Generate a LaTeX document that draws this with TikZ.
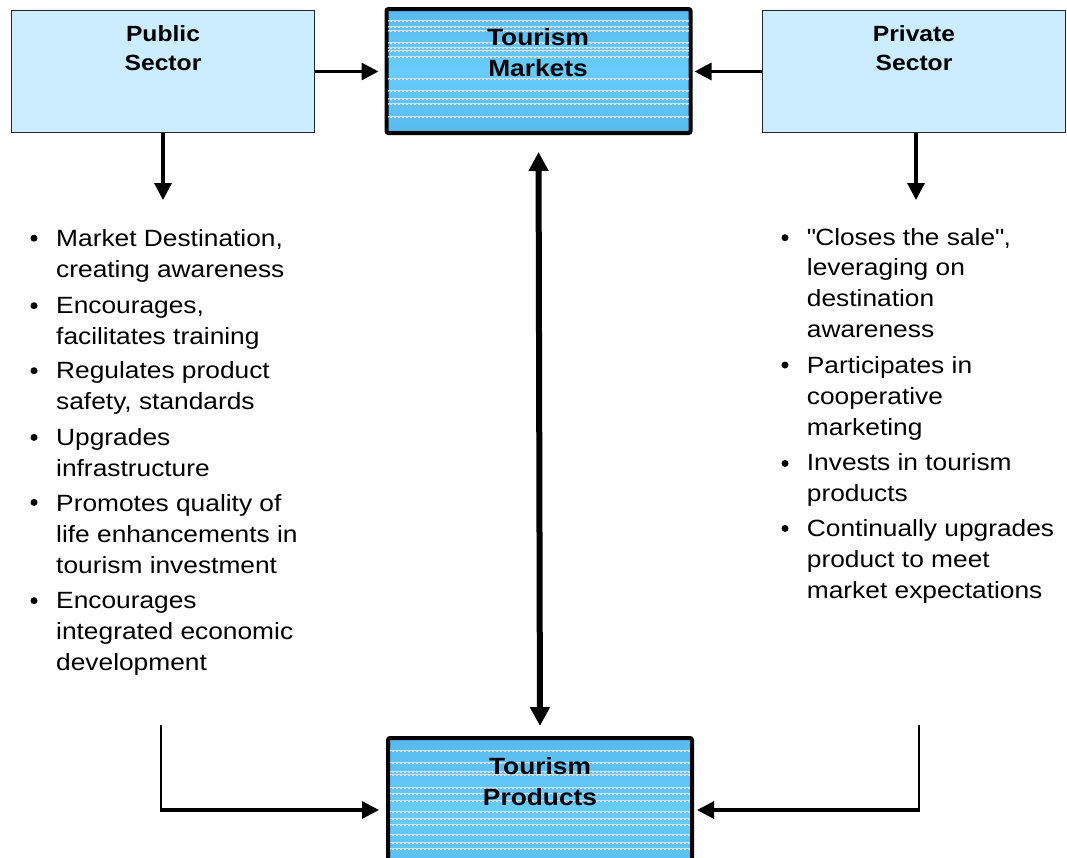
\documentclass[tikz,border=0pt]{standalone}
\usepackage{fontspec}
\setmainfont{Liberation Sans}[FakeStretch=1.12]
\usetikzlibrary{arrows.meta}

\definecolor{sectorfill}{RGB}{204,236,255}
\definecolor{tourismedge}{RGB}{88,186,236}
\definecolor{tourismmid}{RGB}{104,204,255}

\tikzset{
  sectorbox/.style={draw=black!85, line width=1.3pt, fill=sectorfill,
    minimum width=303pt, minimum height=122pt, inner sep=0pt, outer sep=0.65pt},
  tourismbox/.style={draw=black, line width=4pt, rounded corners=2pt,
    top color=tourismedge, bottom color=tourismedge, middle color=tourismmid,
    minimum width=304pt, inner sep=0pt, outer sep=2pt},
  % multi-line nodes are placed at the baseline of their last line
  sectortitle/.style={font=\bfseries\fontsize{22}{28.3}\selectfont, align=center, inner sep=0pt, anchor=base},
  tourismtitle/.style={font=\bfseries\fontsize{23.5}{31}\selectfont, align=center, inner sep=0pt, anchor=base},
  itemtext/.style={font=\fontsize{23.5}{30.8}\selectfont, align=left, inner sep=0pt, anchor=base west},
  flow/.style={line width=3.2pt, -{Triangle[length=17pt,width=17pt]}},
  twoway/.style={line width=6pt, {Triangle[length=19pt,width=19pt]}-{Triangle[length=19pt,width=19pt]}},
  stripe/.style={draw=white!55!tourismmid, line width=1.1pt,
    postaction={draw=gray!70, line width=0.9pt, dash pattern=on 1.5pt off 2.5pt}},
}

\begin{document}
\begin{tikzpicture}[x=1pt, y=-1pt]

    \useasboundingbox (0,0) rectangle (1067,857);
    \clip (0,0) rectangle (1067,857);

    % boxes
    \node[sectorbox] (pub) at (163,71.5) {};
    \node[sectorbox] (prv) at (914,71.5) {};
    \node[tourismbox, minimum height=124pt] (mkt) at (538.5,71) {};
    \node[tourismbox, minimum height=144pt] (prd) at (540,810) {};

    % stripes in the tourism boxes
    \begin{scope}
      \clip (388,11) rectangle (689,131);
      \foreach \y in {21,27,31,43,48,51,57,79,91,99,104,117}
        \draw[stripe] (388,\y) -- (689,\y);
    \end{scope}
    \begin{scope}
      \clip (390,740) rectangle (690,857);
      \foreach \y in {751,763,772,775,788,794,801,812,819,825,835,843,849}
        \draw[stripe] (390,\y) -- (690,\y);
    \end{scope}

    % titles
    \node[sectortitle] (pubtitle) at (163,70) {Public\\Sector};
    \node[sectortitle] (prvtitle) at (914,70) {Private\\Sector};
    \node[tourismtitle] (mkttitle) at (538,76.7) {Tourism\\Markets};
    \node[tourismtitle] (prdtitle) at (540,805) {Tourism\\Products};

    % public sector roles
    \fill (34,238.2) coordinate (pb1) circle (3.5pt);
    \fill (34,305.7) coordinate (pb2) circle (3.5pt);
    \fill (34,370.7) coordinate (pb3) circle (3.5pt);
    \fill (34,437.4) coordinate (pb4) circle (3.5pt);
    \fill (34,502.4) coordinate (pb5) circle (3.5pt);
    \fill (34,600.7) coordinate (pb6) circle (3.5pt);

    \node[itemtext] (pub1) at (56,277) {Market Destination,\\creating awareness};
    \node[itemtext] (pub2) at (56,344.5) {Encourages,\\facilitates training};
    \node[itemtext] (pub3) at (56,409.5) {Regulates product\\safety, standards};
    \node[itemtext] (pub4) at (56,476) {Upgrades\\infrastructure};
    \node[itemtext] (pub5) at (56,573.5) {Promotes quality of\\life enhancements in\\tourism investment};
    \node[itemtext] (pub6) at (56,670.5) {Encourages\\integrated economic\\development};

    % private sector roles
    \fill (785,237.7) coordinate (qb1) circle (3.5pt);
    \fill (785,365) coordinate (qb2) circle (3.5pt);
    \fill (785,463.4) coordinate (qb3) circle (3.5pt);
    \fill (785,528.4) coordinate (qb4) circle (3.5pt);

    \node[itemtext] (prv1) at (806.7,337.5) {\textquotedbl Closes the sale\textquotedbl,\\leveraging on\\destination\\awareness};
    \node[itemtext] (prv2) at (806.7,435.5) {Participates in\\cooperative\\marketing};
    \node[itemtext] (prv3) at (806.7,501) {Invests in tourism\\products};
    \node[itemtext] (prv4) at (806.7,598.3) {Continually upgrades\\product to meet\\market expectations};

    % connectors
    \coordinate (pubhead) at (163,200);
    \coordinate (prvhead) at (916,200);
    \coordinate (pubfoot) at (161,725);
    \coordinate (prvfoot) at (919,725);
    \coordinate (pubcorner) at (pubfoot |- prd.west);
    \coordinate (prvcorner) at (prvfoot |- prd.east);

    \draw[flow, shorten >=6pt] (pub.east) -- (pub.east -| mkt.west);
    \draw[flow, shorten >=2pt] (prv.west) -- (prv.west -| mkt.east);
    \draw[flow] (pub.south) -- (pubhead);
    \draw[flow] (prv.south -| prvhead) -- (prvhead);
    \draw[twoway, shorten <=17pt, shorten >=10pt] (mkt.south) -- (prd.north);

    \draw[line width=2pt] (pubfoot) -- (pubcorner);
    \draw[flow, shorten >=7pt] ([xshift=-1pt]pubcorner) -- (prd.west);
    \draw[line width=2pt] (prvfoot) -- (prvcorner);
    \draw[flow, shorten >=3pt] ([xshift=1pt]prvcorner) -- (prd.east);

\end{tikzpicture}
\end{document}
